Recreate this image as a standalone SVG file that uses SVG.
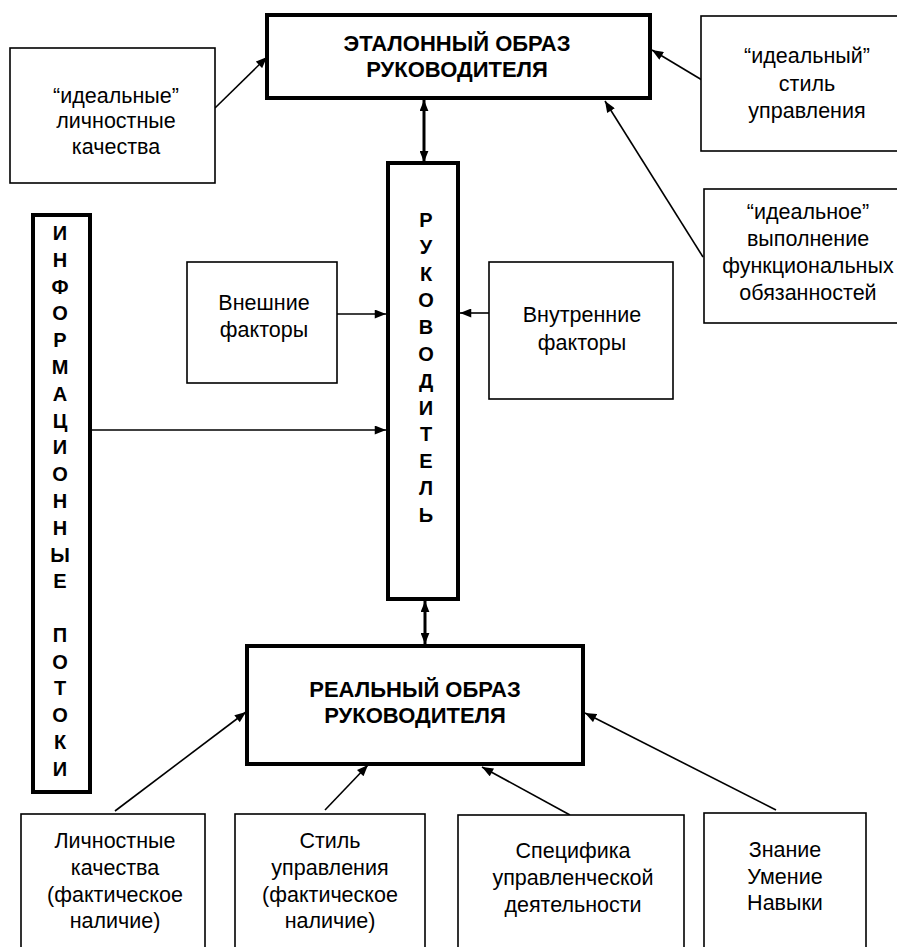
<svg xmlns="http://www.w3.org/2000/svg" width="897" height="947" viewBox="0 0 897 947">
<defs>
<style>
.thin{fill:#fff;stroke:#000;stroke-width:1.6}
.thick{fill:#fff;stroke:#000;stroke-width:4}
.t{font-family:"Liberation Sans",Arial,sans-serif;font-size:21.5px;text-anchor:middle;fill:#000}
.b{font-family:"Liberation Sans",Arial,sans-serif;font-size:22px;font-weight:bold;text-anchor:middle;fill:#000}
.v{font-family:"Liberation Sans",Arial,sans-serif;font-size:20px;font-weight:bold;text-anchor:middle;fill:#000}
.c{fill:none;stroke:#000;stroke-width:1.6}
.cb{fill:none;stroke:#000;stroke-width:3}
</style>
<marker id="ah" viewBox="0 0 10 8" refX="10" refY="4" markerWidth="12" markerHeight="9" markerUnits="userSpaceOnUse" orient="auto-start-reverse">
<path d="M0,0 L10,4 L0,8 Z" fill="#000"/>
</marker>
<marker id="ahb" viewBox="0 0 10 8" refX="10" refY="4" markerWidth="11" markerHeight="9" markerUnits="userSpaceOnUse" orient="auto-start-reverse">
<path d="M0,0 L10,4 L0,8 Z" fill="#000"/>
</marker>
</defs>
<rect width="897" height="947" fill="#fff"/>

<g id="connectors">
<line class="cb" x1="424" y1="100" x2="424" y2="162" marker-start="url(#ahb)" marker-end="url(#ahb)"/>
<line class="cb" x1="425" y1="601" x2="425" y2="644" marker-start="url(#ahb)" marker-end="url(#ahb)"/>
<line class="c" x1="215" y1="108" x2="267" y2="57" marker-end="url(#ah)"/>
<line class="c" x1="702" y1="80" x2="652" y2="50" marker-end="url(#ah)"/>
<line class="c" x1="703" y1="257" x2="605" y2="101" marker-end="url(#ah)"/>
<line class="c" x1="337" y1="314" x2="386" y2="314" marker-end="url(#ah)"/>
<line class="c" x1="489" y1="313" x2="460" y2="313" marker-end="url(#ah)"/>
<line class="c" x1="90" y1="430" x2="386" y2="430" marker-end="url(#ah)"/>
<line class="c" x1="115" y1="811" x2="246" y2="712" marker-end="url(#ah)"/>
<line class="c" x1="325" y1="810" x2="368" y2="765" marker-end="url(#ah)"/>
<line class="c" x1="570" y1="815" x2="482" y2="767" marker-end="url(#ah)"/>
<line class="c" x1="776" y1="810" x2="585" y2="713" marker-end="url(#ah)"/>
</g>

<g id="etalon">
<rect class="thick" x="267" y="15" width="383" height="83"/>
<text class="b" x="457" y="51">ЭТАЛОННЫЙ ОБРАЗ</text>
<text class="b" x="457" y="77">РУКОВОДИТЕЛЯ</text>
</g>

<g id="ideal-kachestva">
<rect class="thin" x="10" y="48" width="205" height="135"/>
<text class="t" x="116" y="103">“идеальные”</text>
<text class="t" x="116" y="128">личностные</text>
<text class="t" x="116" y="154">качества</text>
</g>

<g id="ideal-stil">
<rect class="thin" x="701" y="16" width="215" height="135"/>
<text class="t" x="807" y="63">“идеальный”</text>
<text class="t" x="807" y="91">стиль</text>
<text class="t" x="807" y="118">управления</text>
</g>

<g id="ideal-vypolnenie">
<rect class="thin" x="704" y="189" width="215" height="134"/>
<text class="t" x="808" y="219">“идеальное”</text>
<text class="t" x="808" y="246">выполнение</text>
<text class="t" x="808" y="273">функциональных</text>
<text class="t" x="808" y="300">обязанностей</text>
</g>

<g id="rukovoditel">
<rect class="thick" x="388" y="163" width="70" height="436"/>
<text class="v" x="426" y="227">Р</text>
<text class="v" x="426" y="254">У</text>
<text class="v" x="426" y="281">К</text>
<text class="v" x="426" y="307">О</text>
<text class="v" x="426" y="334">В</text>
<text class="v" x="426" y="361">О</text>
<text class="v" x="426" y="388">Д</text>
<text class="v" x="426" y="415">И</text>
<text class="v" x="426" y="441">Т</text>
<text class="v" x="426" y="468">Е</text>
<text class="v" x="426" y="495">Л</text>
<text class="v" x="426" y="522">Ь</text>
</g>

<g id="info">
<rect class="thick" x="33" y="215" width="57" height="577"/>
<text class="v" x="60" y="240">И</text>
<text class="v" x="60" y="267">Н</text>
<text class="v" x="60" y="294">Ф</text>
<text class="v" x="60" y="320">О</text>
<text class="v" x="60" y="347">Р</text>
<text class="v" x="60" y="374">М</text>
<text class="v" x="60" y="401">А</text>
<text class="v" x="60" y="428">Ц</text>
<text class="v" x="60" y="454">И</text>
<text class="v" x="60" y="481">О</text>
<text class="v" x="60" y="508">Н</text>
<text class="v" x="60" y="535">Н</text>
<text class="v" x="60" y="562">Ы</text>
<text class="v" x="60" y="588">Е</text>
<text class="v" x="60" y="642">П</text>
<text class="v" x="60" y="669">О</text>
<text class="v" x="60" y="695">Т</text>
<text class="v" x="60" y="722">О</text>
<text class="v" x="60" y="749">К</text>
<text class="v" x="60" y="776">И</text>
</g>

<g id="vneshnie">
<rect class="thin" x="187" y="262" width="150" height="121"/>
<text class="t" x="264" y="310">Внешние</text>
<text class="t" x="264" y="337">факторы</text>
</g>

<g id="vnutrennie">
<rect class="thin" x="489" y="262" width="184" height="137"/>
<text class="t" x="582" y="322">Внутренние</text>
<text class="t" x="582" y="350">факторы</text>
</g>

<g id="realny">
<rect class="thick" x="247" y="646" width="336" height="118"/>
<text class="b" x="415" y="697">РЕАЛЬНЫЙ ОБРАЗ</text>
<text class="b" x="415" y="723">РУКОВОДИТЕЛЯ</text>
</g>

<g id="lichnostnye">
<rect class="thin" x="21" y="814" width="184" height="150"/>
<text class="t" x="115" y="848">Личностные</text>
<text class="t" x="115" y="875">качества</text>
<text class="t" x="115" y="902">(фактическое</text>
<text class="t" x="115" y="928">наличие)</text>
</g>

<g id="stil">
<rect class="thin" x="235" y="814" width="190" height="150"/>
<text class="t" x="330" y="848">Стиль</text>
<text class="t" x="330" y="875">управления</text>
<text class="t" x="330" y="902">(фактическое</text>
<text class="t" x="330" y="928">наличие)</text>
</g>

<g id="specifika">
<rect class="thin" x="458" y="815" width="226" height="150"/>
<text class="t" x="573" y="858">Специфика</text>
<text class="t" x="573" y="885">управленческой</text>
<text class="t" x="573" y="912">деятельности</text>
</g>

<g id="znanie">
<rect class="thin" x="704" y="813" width="162" height="150"/>
<text class="t" x="785" y="857">Знание</text>
<text class="t" x="785" y="884">Умение</text>
<text class="t" x="785" y="910">Навыки</text>
</g>
</svg>
